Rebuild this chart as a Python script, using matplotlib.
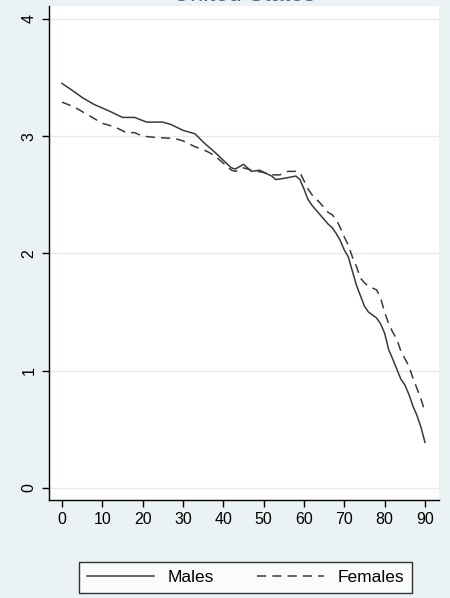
import matplotlib.pyplot as plt

plt.rcParams['font.family'] = ['Liberation Sans', 'DejaVu Sans']

# Values by age
ages_m = [0, 3, 5, 8, 12, 15, 18, 21, 25, 27, 30, 33, 35, 38, 42, 43, 45, 47, 49,
          52, 53, 55, 58, 59, 60, 61, 62, 64, 66, 67, 68, 69, 70, 71, 72, 73, 74,
          75, 76, 78, 79, 80, 81, 82, 84, 85, 86, 87, 88, 89, 90]
males = [3.45, 3.38, 3.33, 3.27, 3.21, 3.16, 3.16, 3.12, 3.12, 3.10, 3.05, 3.02,
         2.95, 2.86, 2.73, 2.72, 2.76, 2.70, 2.71, 2.66, 2.63, 2.64, 2.66, 2.63,
         2.55, 2.46, 2.41, 2.33, 2.25, 2.22, 2.17, 2.11, 2.03, 1.97, 1.85, 1.73,
         1.64, 1.55, 1.50, 1.45, 1.40, 1.32, 1.18, 1.10, 0.93, 0.88, 0.80, 0.70,
         0.62, 0.52, 0.39]

ages_f = [0, 3, 5, 8, 10, 13, 16, 18, 20, 23, 28, 30, 33, 36, 38, 40, 42, 43, 45,
          47, 50, 52, 54, 56, 58, 59, 60, 61, 62, 64, 66, 67, 68, 69, 70, 71, 72,
          73, 74, 75, 76, 78, 79, 80, 81, 82, 83, 84, 86, 87, 88, 89, 90]
females = [3.29, 3.25, 3.21, 3.15, 3.11, 3.08, 3.03, 3.03, 3.00, 2.99, 2.98, 2.96,
           2.91, 2.87, 2.83, 2.77, 2.71, 2.70, 2.73, 2.71, 2.69, 2.67, 2.67, 2.70,
           2.70, 2.69, 2.62, 2.55, 2.50, 2.43, 2.35, 2.33, 2.29, 2.22, 2.14, 2.07,
           1.97, 1.89, 1.79, 1.75, 1.72, 1.69, 1.62, 1.50, 1.40, 1.33, 1.27, 1.17,
           1.04, 0.94, 0.85, 0.76, 0.65]

xticks = list(range(0, 91, 10))
yticks = [0, 1, 2, 3, 4]

bg = '#eaf2f3'
line_col = '#3a3a3a'

fig = plt.figure(figsize=(4.5, 5.98), dpi=100, facecolor=bg)
ax = fig.add_axes([49 / 450, 98 / 598, 390 / 450, 494 / 598])
ax.set_facecolor('white')

ax.plot(ages_m, males, color=line_col, lw=1.1, label='Males')
ax.plot(ages_f, females, color=line_col, lw=1.1, dashes=(6, 4), label='Females')

ax.set_xlim(-3.22, 93.48)
ax.set_ylim(-0.102, 4.11)
ax.set_xticks(xticks)
ax.set_yticks(yticks)
ax.grid(axis='y', color='#e3ecee', lw=1.0)
ax.set_axisbelow(True)

for s in ['top', 'right']:
    ax.spines[s].set_visible(False)
ax.spines['left'].set_linewidth(1.0)
ax.spines['bottom'].set_linewidth(1.0)
ax.tick_params(direction='out', length=5, width=1, labelsize=11.5, pad=4)
for lab in ax.get_yticklabels():
    lab.set_rotation(90)
    lab.set_va('center')

# title sits mostly above the top edge
fig.text(244 / 450, 1 - 1 / 598, 'United States', ha='center', va='baseline',
         fontsize=17, color='#5a6485')

leg = fig.legend(loc='lower left', bbox_to_anchor=(79 / 450, 5 / 598, 333 / 450, 36 / 598),
                 mode='expand', ncol=2, fontsize=12.5, frameon=True, fancybox=False,
                 handlelength=3.85, handletextpad=0.8, borderpad=0.45, borderaxespad=0)
leg.get_frame().set_edgecolor('black')
leg.get_frame().set_linewidth(1.0)

fig.savefig('out.png', dpi=100, facecolor=bg)
